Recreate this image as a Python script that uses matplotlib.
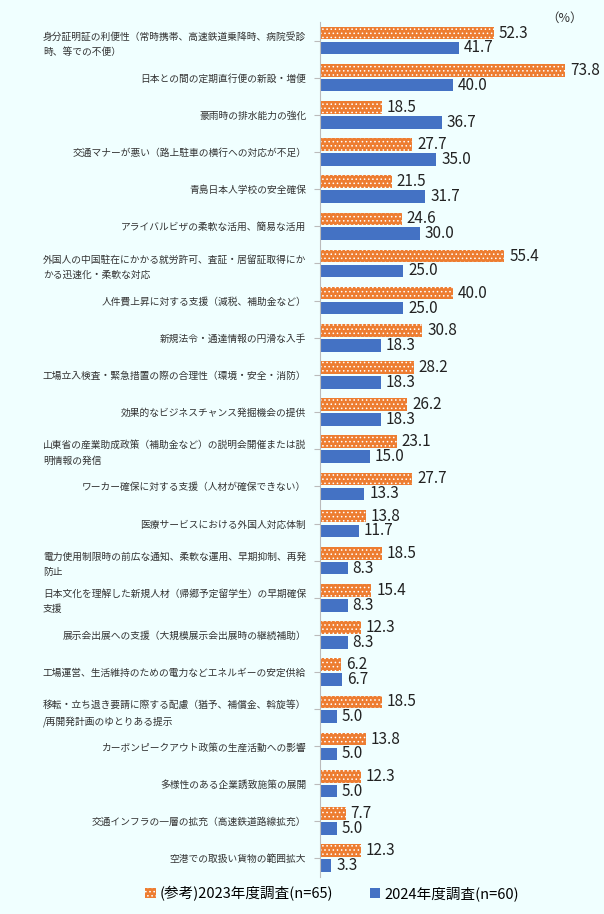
import matplotlib
matplotlib.use("Agg")
import matplotlib.pyplot as plt
import numpy as np

plt.rcParams["font.family"] = "Noto Sans CJK JP"
plt.rcParams["hatch.color"] = "white"
plt.rcParams["hatch.linewidth"] = 0.6

categories = [
    "身分証明証の利便性（常時携帯、高速鉄道乗降時、病院受診\n時、等での不便）",
    "日本との間の定期直行便の新設・増便",
    "豪雨時の排水能力の強化",
    "交通マナーが悪い（路上駐車の横行への対応が不足）",
    "青島日本人学校の安全確保",
    "アライバルビザの柔軟な活用、簡易な活用",
    "外国人の中国駐在にかかる就労許可、査証・居留証取得にか\nかる迅速化・柔軟な対応",
    "人件費上昇に対する支援（減税、補助金など）",
    "新規法令・通達情報の円滑な入手",
    "工場立入検査・緊急措置の際の合理性（環境・安全・消防）",
    "効果的なビジネスチャンス発掘機会の提供",
    "山東省の産業助成政策（補助金など）の説明会開催または説\n明情報の発信",
    "ワーカー確保に対する支援（人材が確保できない）",
    "医療サービスにおける外国人対応体制",
    "電力使用制限時の前広な通知、柔軟な運用、早期抑制、再発\n防止",
    "日本文化を理解した新規人材（帰郷予定留学生）の早期確保\n支援",
    "展示会出展への支援（大規模展示会出展時の継続補助）",
    "工場運営、生活維持のための電力などエネルギーの安定供給",
    "移転・立ち退き要請に際する配慮（猶予、補償金、斡旋等）\n/再開発計画のゆとりある提示",
    "カーボンピークアウト政策の生産活動への影響",
    "多様性のある企業誘致施策の展開",
    "交通インフラの一層の拡充（高速鉄道路線拡充）",
    "空港での取扱い貨物の範囲拡大",
]
vals_2023 = [52.3, 73.8, 18.5, 27.7, 21.5, 24.6, 55.4, 40.0, 30.8, 28.2, 26.2, 23.1,
             27.7, 13.8, 18.5, 15.4, 12.3, 6.2, 18.5, 13.8, 12.3, 7.7, 12.3]
vals_2024 = [41.7, 40.0, 36.7, 35.0, 31.7, 30.0, 25.0, 25.0, 18.3, 18.3, 18.3, 15.0,
             13.3, 11.7, 8.3, 8.3, 8.3, 6.7, 5.0, 5.0, 5.0, 5.0, 3.3]
labels = ["(参考)2023年度調査(n=65)", "2024年度調査(n=60)"]

bg = "#F0FFFF"
orange = "#ED7D31"
blue = "#4472C4"

fig = plt.figure(figsize=(6.04, 9.14), dpi=100, facecolor=bg)
ax = fig.add_axes([0.53, 0.041, 0.44, 0.935], facecolor=bg)

y = np.arange(len(categories))
h = 0.34
off = 0.2
b1 = ax.barh(y - off, vals_2023, height=h, color=orange, hatch="....",
             edgecolor="white", linewidth=0, label=labels[0])
b2 = ax.barh(y + off, vals_2024, height=h, color=blue, label=labels[1])

for yy, v in zip(y, vals_2023):
    ax.text(v + 1.5, yy - off, f"{v:.1f}", va="center", ha="left", fontsize=11, color="#222222")
for yy, v in zip(y, vals_2024):
    ax.text(v + 1.5, yy + off, f"{v:.1f}", va="center", ha="left", fontsize=11, color="#222222")

ax.set_ylim(len(categories) - 0.5, -0.5)
ax.set_xlim(0, 80)
ax.set_yticks(y)
ax.set_yticklabels(categories, fontsize=7, color="#333333", linespacing=1.7)
for t in ax.get_yticklabels():
    t.set_multialignment("left")
ax.tick_params(axis="y", length=4, color="#BBBBBB", pad=6)
ax.set_xticks([])
for s in ["top", "right", "bottom"]:
    ax.spines[s].set_visible(False)
ax.spines["left"].set_color("#BBBBBB")

fig.text(0.935, 0.98, "（%）", fontsize=9, color="#333333", ha="center", va="center")

fig.legend(handles=[b1, b2], labels=labels, loc="lower center", bbox_to_anchor=(0.55, 0.0),
           ncol=2, frameon=False, fontsize=10.5, handlelength=0.7, handleheight=0.7,
           columnspacing=2.5, handletextpad=0.3)

fig.savefig("out.png", dpi=100, facecolor=bg)
